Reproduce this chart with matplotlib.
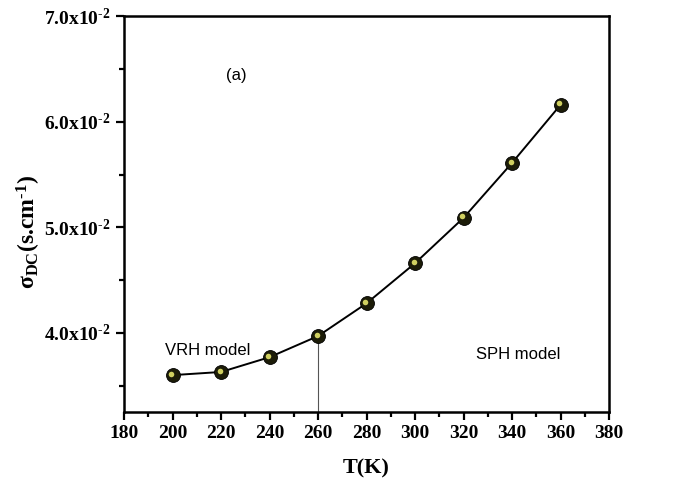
import matplotlib
matplotlib.use("Agg")
import matplotlib.pyplot as plt
from matplotlib.ticker import MultipleLocator, FixedLocator, FixedFormatter
from matplotlib.transforms import offset_copy

# data
temps = [200, 220, 240, 260, 280, 300, 320, 340, 360]
sigma_dc = [0.0360, 0.0363, 0.0377, 0.0397, 0.0428, 0.0466, 0.0509, 0.0561, 0.0616]
y_ticks = [0.04, 0.05, 0.06, 0.07]
y_labels = ["4.0x10$^{\\text{-2}}$", "5.0x10$^{\\text{-2}}$", "6.0x10$^{\\text{-2}}$", "7.0x10$^{\\text{-2}}$"]
boundary_T = 260

plt.rcParams.update({
    "font.family": ["Liberation Serif", "DejaVu Serif"],
    "mathtext.fontset": "custom",
    "mathtext.rm": "Liberation Serif:bold",
    "mathtext.it": "Liberation Serif:bold",
    "mathtext.bf": "Liberation Serif:bold",
})

fig = plt.figure(figsize=(6.74, 4.9), dpi=100)
ax = fig.add_axes([0.184, 0.159, 0.7196, 0.808])

# thin vertical line marking the VRH / SPH boundary
idx = temps.index(boundary_T)
ax.plot([boundary_T, boundary_T], [0.0, sigma_dc[idx]], color="#555555", linewidth=0.8, zorder=1)

ax.plot(temps, sigma_dc, color="black", linewidth=1.4, zorder=2)
ax.plot(temps, sigma_dc, linestyle="none", marker="o", markersize=10,
        markerfacecolor="#1c1c08", markeredgecolor="black", markeredgewidth=0.6, zorder=3)
hl = offset_copy(ax.transData, fig=fig, x=-1.0, y=1.0, units="points")
ax.plot(temps, sigma_dc, linestyle="none", marker="o", markersize=4,
        markerfacecolor="#d0d060", markeredgecolor="none", transform=hl, zorder=4)

ax.set_xlim(180, 380)
ax.set_ylim(0.0325, 0.070)
ax.xaxis.set_major_locator(MultipleLocator(20))
ax.xaxis.set_minor_locator(MultipleLocator(10))
ax.yaxis.set_major_locator(FixedLocator(y_ticks))
ax.yaxis.set_major_formatter(FixedFormatter(y_labels))
ax.yaxis.set_minor_locator(MultipleLocator(0.005))

ax.tick_params(which="both", direction="out", width=1.6, top=False, right=False)
ax.tick_params(which="major", length=6, labelsize=14)
ax.tick_params(which="minor", length=3.5)
for lab in ax.get_xticklabels() + ax.get_yticklabels():
    lab.set_fontweight("bold")
for spine in ax.spines.values():
    spine.set_linewidth(1.8)

ax.set_xlabel("T(K)", fontsize=16, fontweight="bold", labelpad=12)
ax.set_ylabel("σ$_{\\mathrm{DC}}$(s.cm$^{\\text{-1}}$)", fontsize=17, fontweight="bold")
ax.yaxis.set_label_coords(-0.168, 0.455)

ax.text(222, 0.0644, "(a)", fontsize=12, family="Liberation Sans", ha="left", va="center")
ax.text(197, 0.0383, "VRH model", fontsize=12, family="Liberation Sans", ha="left", va="center")
ax.text(325, 0.0380, "SPH model", fontsize=12, family="Liberation Sans", ha="left", va="center")

fig.savefig("out.png", dpi=100)
